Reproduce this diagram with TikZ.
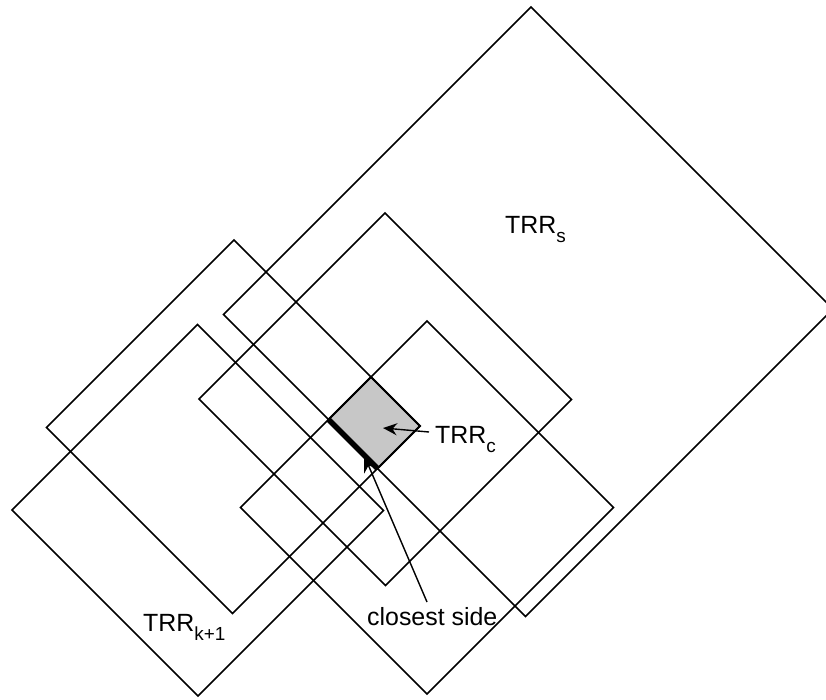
\documentclass[tikz,border=0pt]{standalone}
\usepackage{fontspec}
\setmainfont{Liberation Sans}
\usetikzlibrary{arrows.meta}
\newcommand\subtxt[1]{\raisebox{-9bp}{\fontsize{19}{22}\selectfont #1}}
\begin{document}
\begin{tikzpicture}[x=1bp,y=-1bp,
  trr/.style={draw=black, line width=1.5bp, line join=miter},
  cbox/.style={fill=black!22, draw=black, line width=1.9bp},
  sidebar/.style={draw=black, line width=5.5bp, line cap=butt},
  lbl/.style={font=\fontsize{25}{30}\selectfont, inner sep=0pt, anchor=base west},
  ptr/.style={draw=black, line width=1.4bp, -{Stealth[length=14bp,width=12bp]}},
  bigptr/.style={draw=black, line width=1.4bp, -{Stealth[length=17bp,width=14bp]}}]
\useasboundingbox (0,0) rectangle (826,700);
\fill[white] (0,0) rectangle (826,700);
% rotated frame: (u,v) with u = x - y, v = x + y in pixel units
\begin{scope}[x={(0.5bp,0.5bp)},y={(0.5bp,-0.5bp)}]
  % TRR_c (intersection region)
  \path[cbox] (-91,748) -- (-6,748) -- (-6,846) -- (-91,846) -- cycle;
  % rectangle A
  \draw[trr] (-381,474) -- (-6,474) -- (-6,846) -- (-381,846) -- cycle;
  % rectangle B (TRR_{k+1})
  \draw[trr] (-498,522) -- (-127,522) -- (-127,894) -- (-498,894) -- cycle;
  % rectangle C
  \draw[trr] (-200,598) -- (172,598) -- (172,971) -- (-200,971) -- cycle;
  % rectangle D
  \draw[trr] (-267,748) -- (106,748) -- (106,1121) -- (-267,1121) -- cycle;
  % TRR_s
  \draw[trr] (-91,538) -- (524,538) -- (524,1142) -- (-91,1142) -- cycle;
  % closest side
  \draw[sidebar] (-91,748) -- (-91,846);
\end{scope}
% labels
\node[lbl] (TRRs) at (505,233) {TRR\subtxt{s}};
\node[lbl] (TRRc) at (435,443) {TRR\subtxt{c}};
\node[lbl] (TRRk) at (143,631) {TRR\subtxt{k+1}};
\node[lbl] (closest) at (367,625) {closest side};
% pointers
\coordinate (ctail) at (429,432);
\coordinate (ctip) at (383,428);
\coordinate (stail) at (427,602);
\coordinate (stip) at (364,455);
\draw[ptr] (ctail) -- (ctip);
\draw[bigptr] (stail) -- (stip);
\end{tikzpicture}
\end{document}
